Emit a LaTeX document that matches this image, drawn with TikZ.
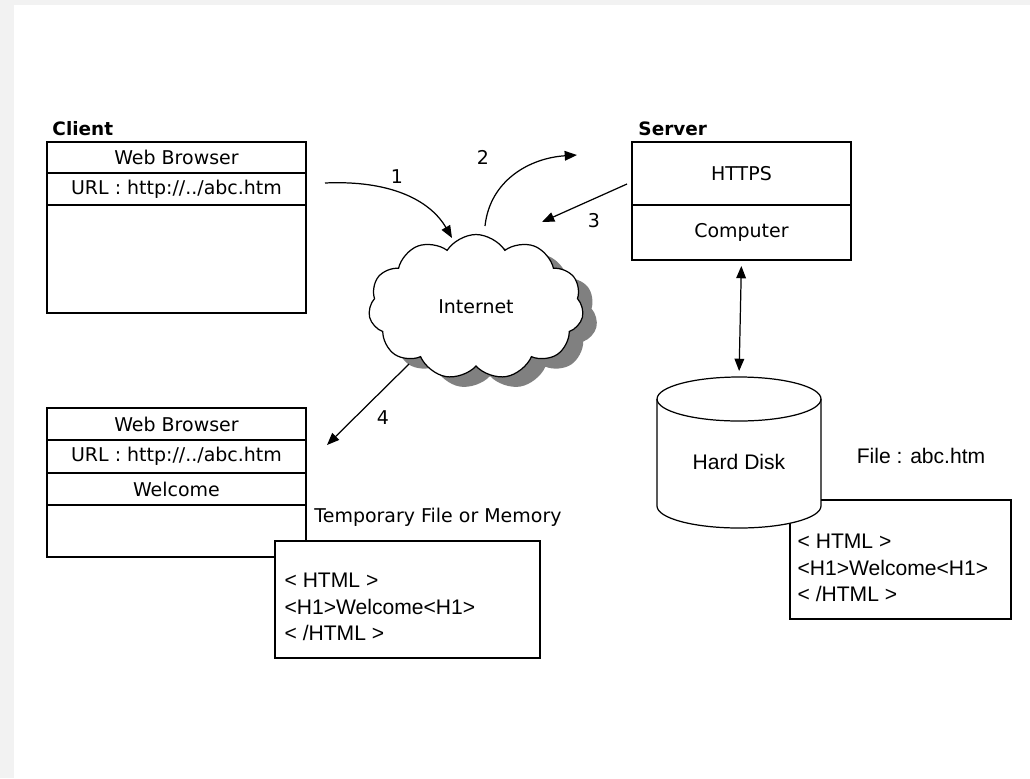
\documentclass[tikz,border=0pt]{standalone}
\usepackage{fontspec}
\setmainfont{Liberation Sans}
\newfontfamily\tahoma{DejaVu Sans}
\usetikzlibrary{arrows.meta,positioning,shapes.symbols,shadows}
\definecolor{pagegray}{RGB}{242,242,242}
\definecolor{shadowgray}{RGB}{128,128,128}

\begin{document}
\begin{tikzpicture}[x=0.02cm,y=-0.02cm,line width=0.7pt]
  \tikzset{row/.style={draw, fill=white, inner sep=0pt, outer sep=0pt,
      minimum width=5.18cm, font=\tahoma\fontsize{10.8}{13}\selectfont},
    srow/.style={row, minimum width=4.38cm},
    head/.style={anchor=west, font=\tahoma\bfseries\fontsize{10.5}{12}\selectfont},
    num/.style={font=\tahoma\fontsize{10.8}{13}\selectfont},
    code/.style={anchor=north west, align=left, inner sep=0pt,
      font=\fontsize{12}{15.3}\selectfont},
    Tri/.tip={Triangle[length=7pt,width=5.5pt]},
    arr/.style={-Tri}}

  \useasboundingbox (0,0) rectangle (1030,778);
  \fill[pagegray] (0,0) rectangle (1030,778);
  \fill[white] (14,5) rectangle (1030,778);

  % client
  \node[head] (clientlbl) at (46,129) {Client};
  \node[row, minimum height=0.62cm, anchor=north west] (cweb) at (47,142) {Web Browser};
  \node[row, minimum height=0.64cm, below=0pt of cweb] (curl) {URL : http://../abc.htm};
  \node[row, minimum height=2.16cm, below=0pt of curl] (cbody) {};

  % server
  \node[head] (serverlbl) at (632,129) {Server};
  \node[srow, minimum height=1.26cm, anchor=north west] (https) at (632,142) {HTTPS};
  \node[srow, minimum height=1.1cm, below=0pt of https] (computer) {Computer};

  % internet
  \node[cloud, draw, fill=white, cloud puffs=11, cloud puff arc=115, aspect=1.5,
    minimum width=4.3cm, minimum height=2.9cm,
    drop shadow={fill=shadowgray, opacity=1, shadow xshift=0.28cm, shadow yshift=-0.2cm},
    font=\tahoma\fontsize{10.8}{13}\selectfont] (net) at (476,307) {Internet};

  \coordinate (s1) at (325,183);
  \coordinate (e1) at (452,238);
  \coordinate (s2) at (485,226);
  \coordinate (e2) at (577,155);
  \coordinate (s3) at (627,184);
  \coordinate (e3) at (542,222);
  \coordinate (s4) at (409,364);
  \coordinate (e4) at (327,445);

  \draw[arr] (s1) .. controls (390,180) and (430,200) .. (e1);
  \draw[arr] (s2) .. controls (490,180) and (530,158) .. (e2);
  \draw[arr] (s3) -- (e3);
  \draw[arr] (s4) -- (e4);
  \node[num] (n1) at (397,177) {1};
  \node[num] (n2) at (483,157) {2};
  \node[num] (n3) at (594,221) {3};
  \node[num] (n4) at (383,418) {4};

  % browser after loading
  \node[row, minimum height=0.64cm, anchor=north west] (bweb) at (47,408) {Web Browser};
  \node[row, minimum height=0.66cm, below=0pt of bweb] (burl) {URL : http://../abc.htm};
  \node[row, minimum height=0.64cm, below=0pt of burl] (bwelcome) {Welcome};
  \node[row, minimum height=1.04cm, below=0pt of bwelcome] (bbody) {};

  \node[anchor=west, font=\tahoma\fontsize{10.8}{13}\selectfont] (tmplbl) at (308,517) {Temporary File or Memory};
  \node[draw, fill=white, outer sep=0pt, minimum width=5.3cm, minimum height=2.34cm,
    anchor=north west] (tmpbox) at (275,541) {};
  \node[code] (tmptext) at (284,572) {< HTML >\\<H1>Welcome<H1>\\< /HTML >};

  % disk
  \node[draw, fill=white, outer sep=0pt, minimum width=4.42cm, minimum height=2.38cm,
    anchor=north west] (diskbox) at (790,500) {};
  \node[code] (disktext) at (797,533) {< HTML >\\<H1>Welcome<H1>\\< /HTML >};
  \draw[fill=white] (657,506) arc[start angle=180, end angle=360, x radius=1.64cm, y radius=0.44cm]
    -- (821,399) arc[start angle=0, end angle=180, x radius=1.64cm, y radius=0.44cm] -- cycle;
  \draw (657,399) arc[start angle=180, end angle=360, x radius=1.64cm, y radius=0.44cm];
  \coordinate (disktop) at (739,377);
  \node[font=\fontsize{12}{14}\selectfont] (disk) at (739,462) {Hard Disk};
  \node[font=\fontsize{12}{14}\selectfont] (filelbl) at (921,456) {File : abc.htm};

  \draw[Tri-Tri, shorten <=3.4pt, shorten >=3.4pt] (computer.south) -- (disktop);
\end{tikzpicture}
\end{document}
